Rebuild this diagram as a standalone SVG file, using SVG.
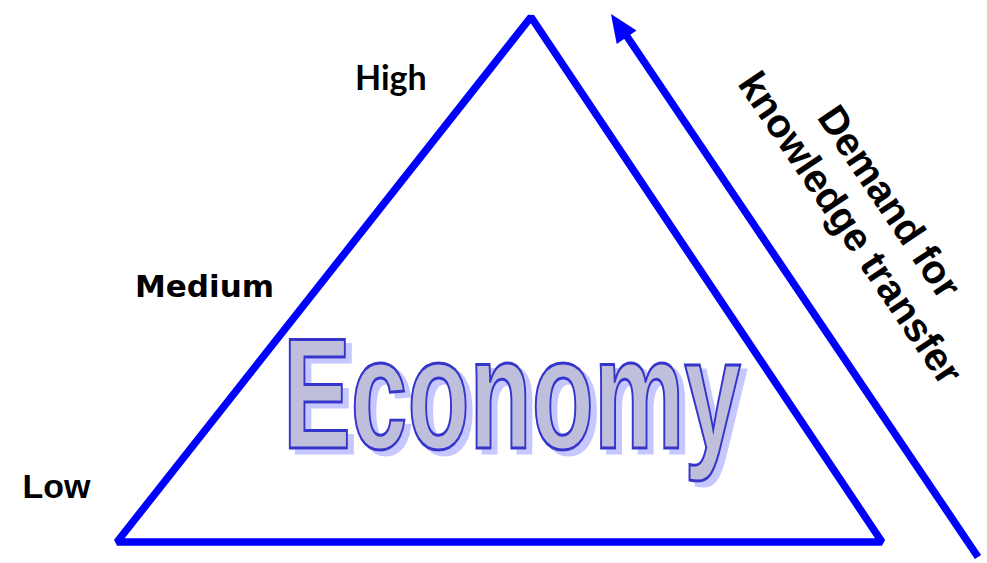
<svg xmlns="http://www.w3.org/2000/svg" width="987" height="563" viewBox="0 0 987 563">
<style>
.lbl{font-weight:bold;fill:#000}
.eco{font-family:"Liberation Sans",Arial,sans-serif;font-weight:bold;font-size:158px}
</style>
<defs>
<filter id="sh" x="-5%" y="-10%" width="115%" height="130%">
<feOffset in="SourceAlpha" dx="9.3" dy="5" result="o"/>
<feFlood flood-color="#9a9aff" flood-opacity="0.55"/>
<feComposite in2="o" operator="in" result="s"/>
<feMerge><feMergeNode in="s"/><feMergeNode in="SourceGraphic"/></feMerge>
</filter>
</defs>
<rect width="987" height="563" fill="#fff"/>
<g id="connectors">
<polygon id="pyramid" points="531,17 882,542 117,542" fill="none" stroke="#0000ff" stroke-width="7.5" stroke-linejoin="bevel"/>
<line x1="978" y1="557" x2="622" y2="29" stroke="#0000ff" stroke-width="7.5"/>
<polygon points="611,14 636.5,30.5 616.7,43.9" fill="#0000ff"/>
</g>
<g id="label-high"><text class="lbl" x="355" y="90" font-family="Lato,'Open Sans',sans-serif" font-size="34">High</text></g>
<g id="label-medium"><text class="lbl" x="135" y="297" font-family="'DejaVu Sans',Verdana,sans-serif" font-size="31">Medium</text></g>
<g id="label-low"><text class="lbl" x="22.5" y="498" font-family="'Liberation Sans',Arial,sans-serif" font-size="34">Low</text></g>
<g id="economy" transform="translate(283,448) scale(0.644,1)">
<text class="eco" x="0" y="0" fill="#bfbfdb" stroke="#3535cc" stroke-width="2.5" vector-effect="non-scaling-stroke" filter="url(#sh)">Economy</text>
</g>
<g id="demand-label" transform="translate(870,215) rotate(56)">
<text class="lbl" font-family="'Liberation Sans',Arial,sans-serif" font-size="40" text-anchor="middle"><tspan x="0" y="-10">Demand for</tspan><tspan x="0" y="37">knowledge transfer</tspan></text>
</g>
</svg>
